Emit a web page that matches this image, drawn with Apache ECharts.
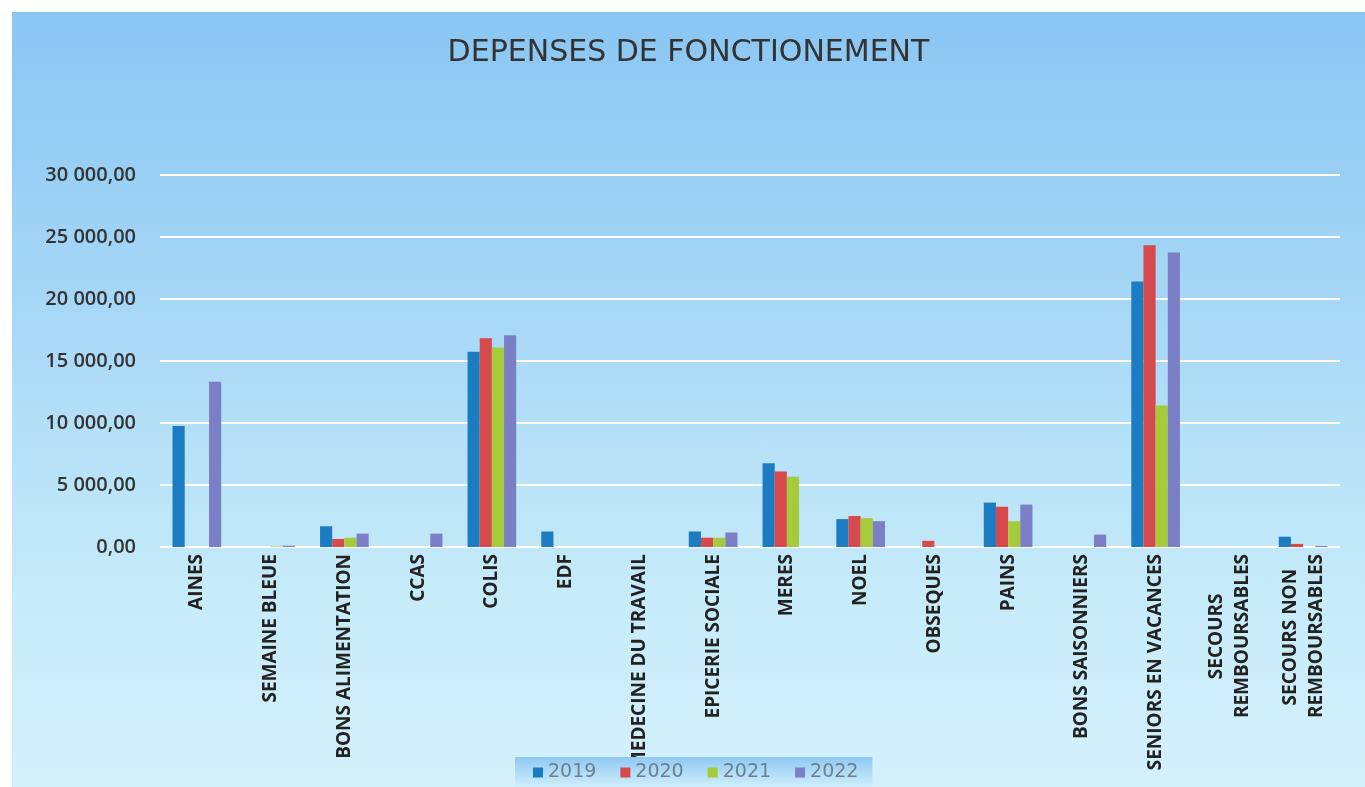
<!DOCTYPE html>
<html>
<head>
<meta charset="utf-8">
<script src="https://cdn.jsdelivr.net/npm/echarts@6/dist/echarts.min.js"></script>
<style>
  html, body { margin: 0; padding: 0; background: #fff; }
  #chart {
    position: absolute; left: 12px; top: 12px; width: 1353px; height: 775px;
    background: linear-gradient(to bottom, #8ac6f3 0%, #a8d8f6 40%, #c6ebf9 75%, #d4f1fb 100%);
  }
</style>
</head>
<body>
<div id="chart"></div>
<script>
// categories and values
var NB = '\u00a0';
var categories = [
  'AINES', 'SEMAINE BLEUE', 'BONS ALIMENTATION', 'CCAS', 'COLIS', 'EDF',
  'MEDECINE DU TRAVAIL', 'EPICERIE SOCIALE', 'MERES', 'NOEL', 'OBSEQUES',
  'PAINS', 'BONS SAISONNIERS', 'SENIORS EN VACANCES',
  'SECOURS' + NB.repeat(8) + '\nREMBOURSABLES',
  'SECOURS NON' + NB.repeat(3) + '\nREMBOURSABLES'
];
var years = ['2019', '2020', '2021', '2022'];
var v2019 = [9750, 0, 1670, 0, 15750, 1250, 0, 1250, 6750, 2250, 0, 3580, 0, 21420, 0, 830];
var v2020 = [0, 0, 650, 0, 16830, 0, 0, 750, 6080, 2500, 500, 3250, 0, 24330, 0, 250];
var v2021 = [0, 50, 750, 0, 16080, 0, 0, 750, 5670, 2330, 0, 2080, 0, 11420, 0, 0];
var v2022 = [13330, 100, 1080, 1080, 17080, 0, 0, 1170, 0, 2080, 0, 3420, 1000, 23750, 0, 80];
var yTicks = { min: 0, max: 30000, step: 5000 };

var colors = ['#1c7cc2', '#d6494c', '#a5cb3a', '#7b7fc6'];

function fmt(v) {
  var s = String(Math.round(v));
  s = s.replace(/\B(?=(\d{3})+(?!\d))/g, ' ');
  return s + ',00';
}

var chart = echarts.init(document.getElementById('chart'));

var seriesData = [v2019, v2020, v2021, v2022];
var series = years.map(function (y, i) {
  return {
    name: y,
    type: 'bar',
    data: seriesData[i],
    barGap: '0%',
    barCategoryGap: '34%',
    itemStyle: { color: colors[i] }
  };
});

chart.setOption({
  animation: false,
  color: colors,
  title: {
    text: 'DEPENSES DE FONCTIONEMENT',
    left: 'center',
    top: 21,
    textStyle: {
      fontFamily: 'DejaVu Sans',
      fontSize: 30,
      fontWeight: 'normal',
      color: '#333'
    }
  },
  legend: {
    data: years,
    bottom: 0,
    left: 503,
    itemWidth: 10,
    itemHeight: 10,
    itemGap: 24,
    padding: [6, 14, 5, 18],
    backgroundColor: new echarts.graphic.LinearGradient(0, 0, 0, 1, [
      { offset: 0, color: '#8fc9f2' },
      { offset: 1, color: '#cfeefb' }
    ]),
    icon: 'rect',
    textStyle: { fontFamily: 'DejaVu Sans', fontSize: 19, color: '#6e7f8c' }
  },
  grid: { left: 148, right: 25, top: 163, bottom: 240, containLabel: false },
  xAxis: {
    type: 'category',
    data: categories,
    axisLine: { show: false },
    axisTick: { show: false },
    axisLabel: {
      interval: 0,
      rotate: 90,
      margin: 7,
      fontFamily: 'Open Sans',
      fontWeight: 'bold',
      fontSize: 19,
      lineHeight: 26,
      color: '#222'
    }
  },
  yAxis: {
    type: 'value',
    min: yTicks.min,
    max: yTicks.max,
    interval: yTicks.step,
    axisLine: { show: false },
    axisTick: { show: false },
    splitLine: { lineStyle: { color: '#ffffff', width: 2 } },
    axisLabel: {
      margin: 24,
      fontFamily: 'Open Sans',
      fontWeight: 600,
      fontSize: 20,
      color: '#333',
      formatter: fmt
    }
  },
  series: series
});
</script>
</body>
</html>
